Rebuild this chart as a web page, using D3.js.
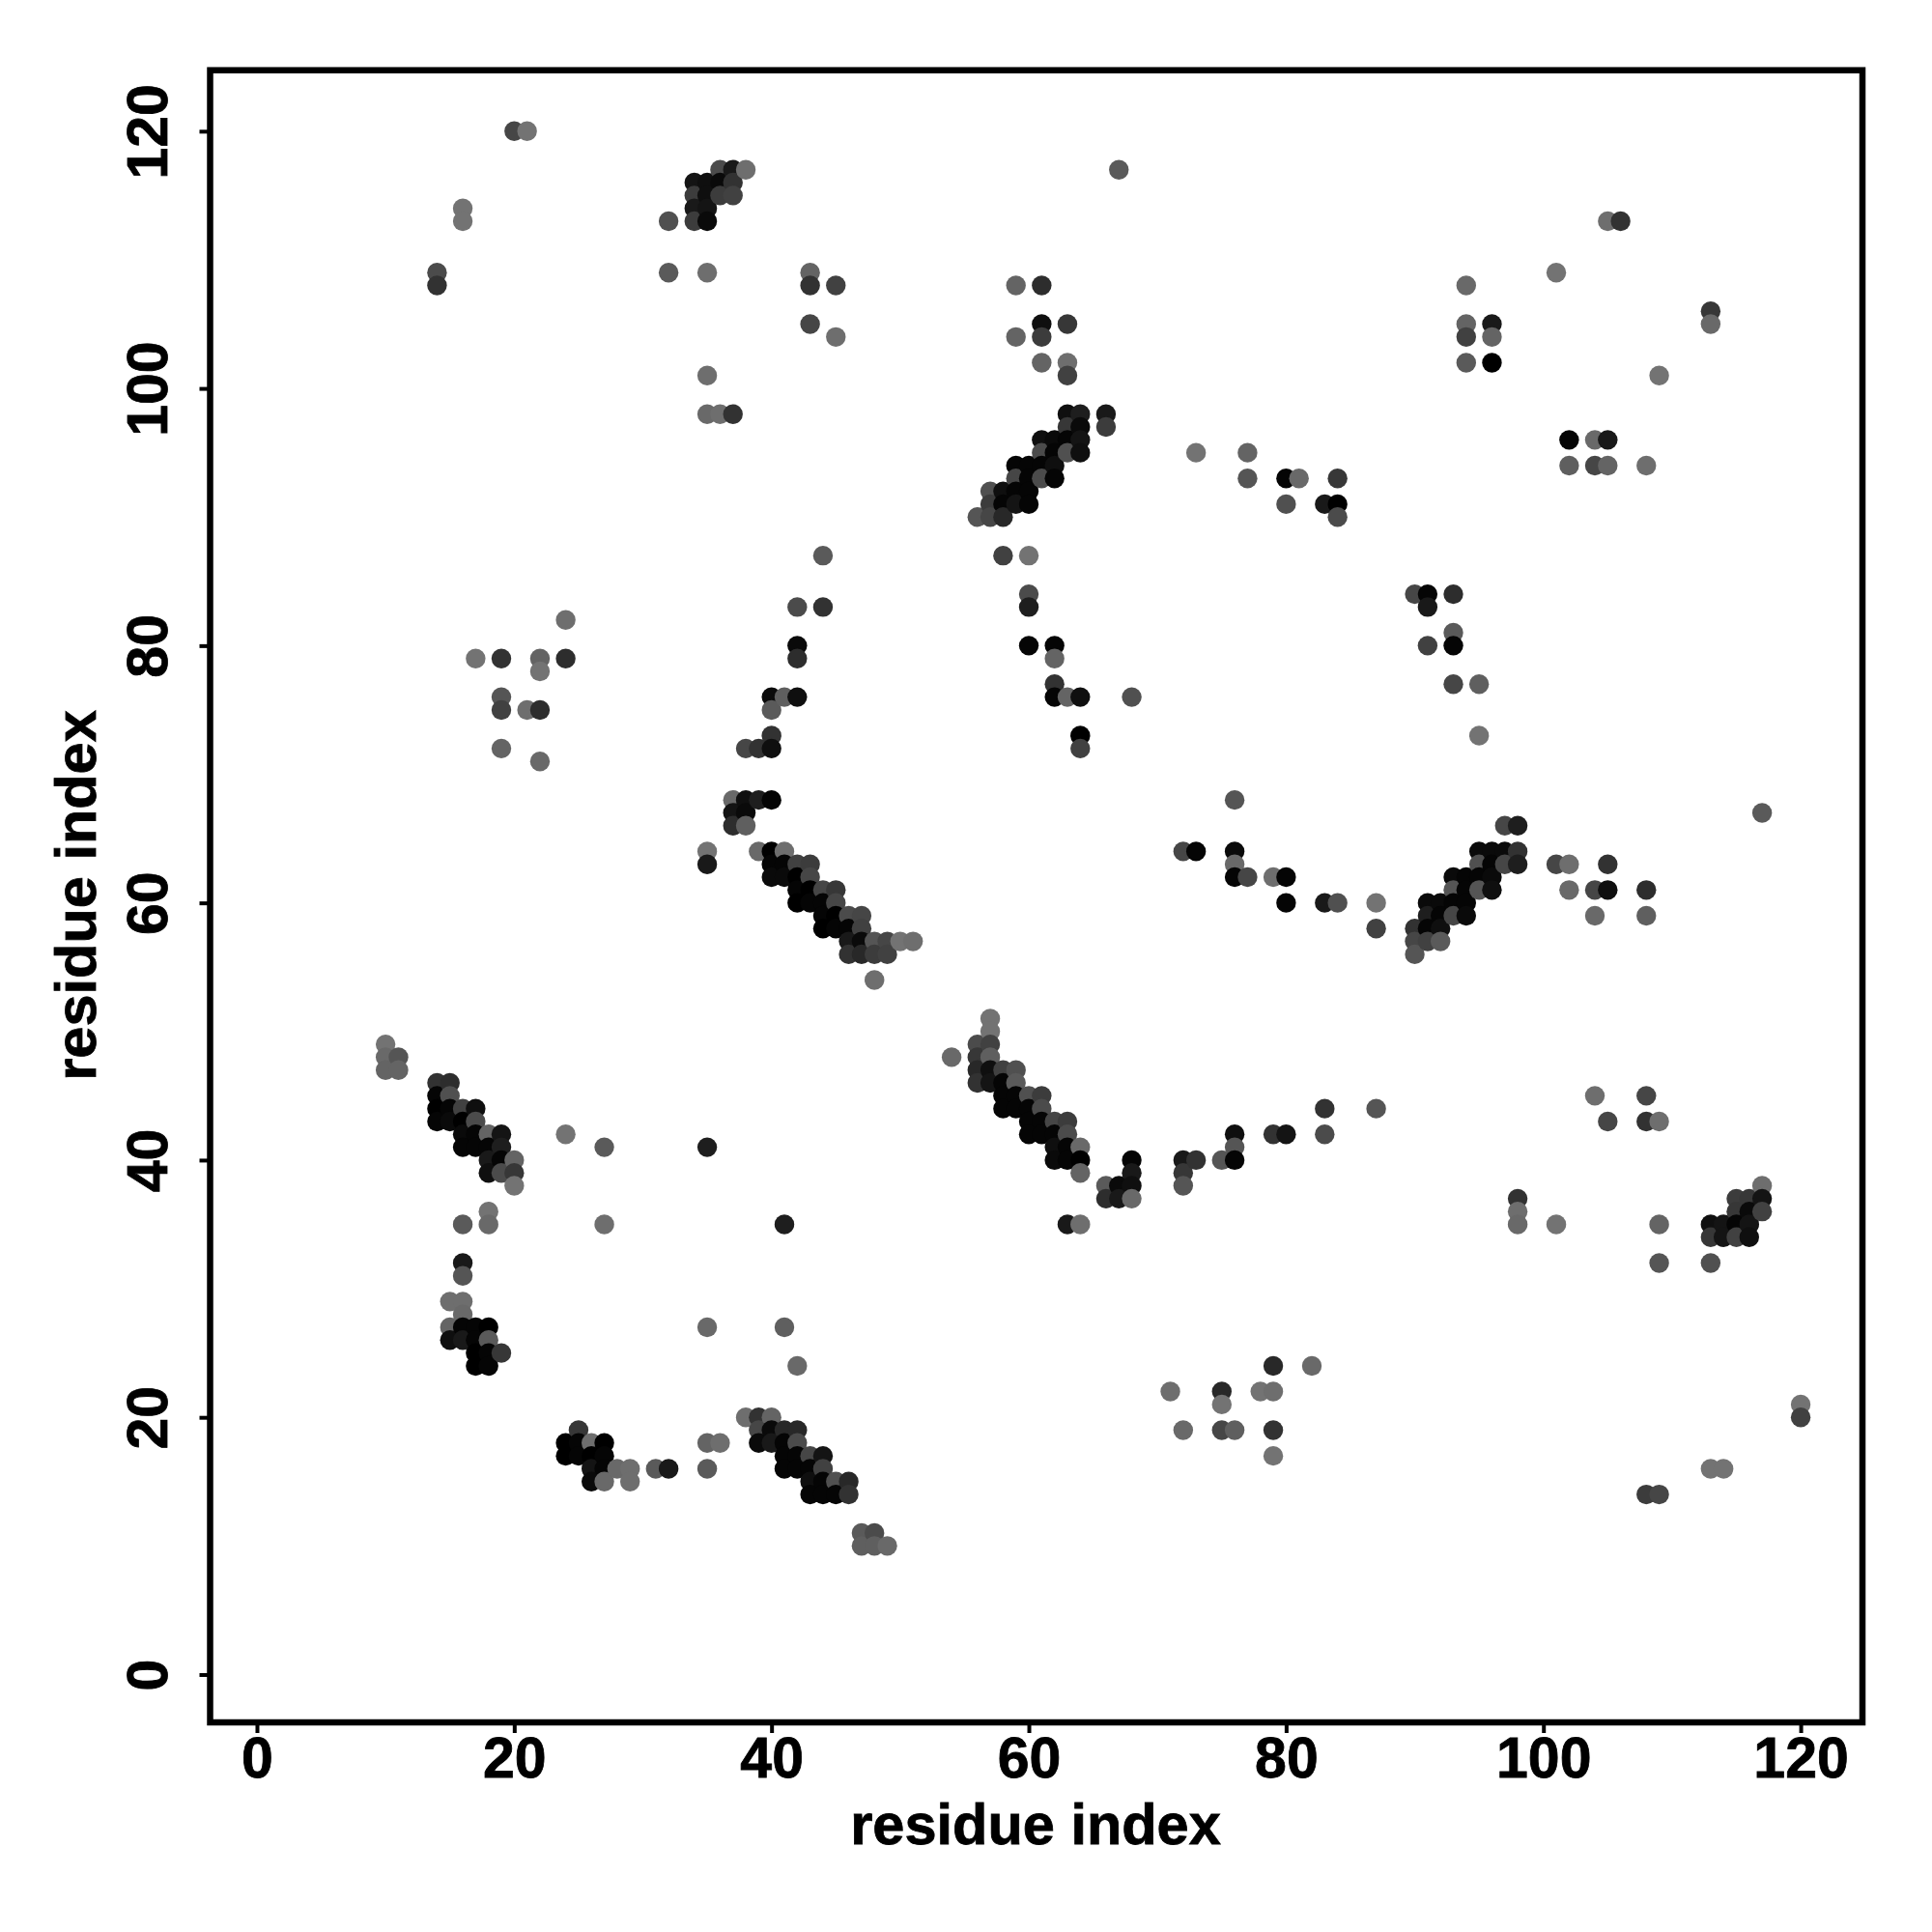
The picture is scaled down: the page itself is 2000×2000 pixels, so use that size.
<!DOCTYPE html>
<html><head><meta charset="utf-8">
<script src="https://cdnjs.cloudflare.com/ajax/libs/d3/7.8.5/d3.min.js"></script>
<style>html,body{margin:0;padding:0;background:#fff}svg{display:block}</style>
</head><body><svg id="c" width="2000" height="2000"></svg>
<script>
const residueI = [
20,21,16,16,14,14,
32,32,35,36,37,38,34,35,36,37,
34,35,36,37,34,35,34,35,
35,35,36,37,43,43,45,43,45,
44,42,44,42,42,40,41,42,40,40,38,39,40,
24,17,19,22,24,22,19,19,21,22,19,22,
37,38,39,40,37,38,37,38,35,35,
39,40,41,40,41,42,43,40,41,42,43,
42,43,44,45,42,43,44,45,
44,45,46,47,44,45,46,47,
46,47,48,49,50,51,46,47,48,49,48,
10,10,11,10,11,14,15,14,15,14,15,16,17,
14,15,16,17,16,17,18,19,16,17,18,19,
18,19,20,18,19,20,20,24,27,18,16,18,27,
16,16,15,16,16,15,16,17,18,15,16,17,18,
17,18,19,17,18,35,41,35,41,42,
25,24,25,26,27,24,25,26,27,
26,27,28,29,26,27,29,31,32,35,36,35,
38,39,40,39,40,41,42,39,40,41,42,
41,42,43,44,41,42,43,44,
43,44,45,46,43,44,45,46,47,48,47,48,49,
57,57,56,57,56,57,56,57,58,59,56,57,58,59,
58,59,60,61,58,59,60,61,
60,61,62,63,60,61,62,63,
62,63,64,62,63,64,64,
68,68,66,67,68,66,67,68,63,64,54,
72,73,72,72,75,76,76,76,79,80,83,83,87,
98,98,98,101,109,109,113,104,108,105,108,109,
71,75,75,78,79,79,82,72,75,76,79,79,120,120,113,114,108,109,
117,115,116,117,115,116,117,
113,114,115,116,113,114,115,116,
67,105,106,101,94,113,113,94,96,94,96,94,96,109,
59,61,61,63,59,61,61,63,63,
63,64,66,63,64,66,61,62,63,64,
61,62,63,64,59,60,61,62,
59,60,61,62,57,58,59,60,
57,58,59,60,56,57,58,
73,77,77,80,81,84,80,83,84,84,
102,104,105,102,104,105,108,
58,60,60,60,60,62,62,62,62,63,64,68,64,64,
90,91,91,93,93,91,93,93,95,95,117,
76,72,73,76,76,76,77,79,80,80,83,84,87,87,
97,98,95,96,97,98,95,96,97,98,
93,94,95,96,93,94,95,96,
91,92,93,94,91,92,93,94,
90,91,92,90,91,92,90,
101,102,105,102,104,105,108,104,108
];
const residueJ = [
120,120,114,113,109,108,
113,109,109,117,117,117,116,116,116,116,
115,115,115,115,114,114,113,113,
101,98,98,98,109,108,108,105,104,
87,83,83,80,79,76,76,76,75,73,72,72,72,
82,79,79,79,79,78,76,75,75,75,72,71,
68,68,68,68,67,67,66,66,64,63,
64,64,64,63,63,63,63,62,62,62,62,
61,61,61,61,60,60,60,60,
59,59,59,59,58,58,58,58,
57,57,57,57,57,57,56,56,56,56,54,
49,48,48,47,47,46,46,45,45,44,44,44,44,
43,43,43,43,42,42,42,42,41,41,41,41,
40,40,40,39,39,39,38,42,41,36,35,35,35,
32,31,29,29,28,27,27,27,27,26,26,26,26,
25,25,25,24,24,41,35,27,27,24,
19,18,18,18,18,17,17,17,17,
16,16,16,16,15,15,15,16,16,18,18,16,
20,20,20,19,19,19,19,18,18,18,18,
17,17,17,17,16,16,16,16,
15,15,15,15,14,14,14,14,11,11,10,10,10,
51,50,49,49,48,48,47,47,47,47,46,46,46,46,
45,45,45,45,44,44,44,44,
43,43,43,43,42,42,42,42,
41,41,41,40,40,40,39,
40,39,38,38,38,37,37,37,35,35,48,
40,40,39,38,40,42,41,40,42,42,44,42,44,
37,36,35,35,35,32,32,45,45,43,43,43,
22,22,21,22,22,24,24,19,19,19,19,17,21,20,16,16,14,14,
38,37,37,37,36,36,36,
35,35,35,35,34,34,34,34,
117,113,113,109,108,106,105,105,105,104,104,102,102,101,
108,108,105,105,104,104,102,102,101,
98,98,98,97,97,97,96,96,96,96,
95,95,95,95,94,94,94,94,
93,93,93,93,92,92,92,92,
91,91,91,91,90,90,90,
95,95,93,93,93,93,91,91,91,90,
96,96,96,94,94,94,94,
87,87,84,83,80,80,79,77,76,76,76,76,73,72,
84,84,83,84,81,80,80,77,77,73,67,
68,64,64,64,63,62,62,62,62,60,60,60,60,58,
66,66,64,64,64,64,63,63,63,63,
62,62,62,62,61,61,61,61,
60,60,60,60,59,59,59,59,
58,58,58,57,57,57,56,
63,63,63,61,61,61,61,59,59
];
const shade = [
70,115,115,115,75,50,
80,90,110,75,25,110,20,15,10,50,
60,15,60,65,25,20,60,10,
110,105,110,50,100,50,65,70,110,
90,75,50,10,45,10,95,15,90,50,70,50,15,
110,115,50,100,45,115,85,65,110,45,100,105,
105,15,30,5,20,10,45,95,115,25,
105,0,110,5,5,65,60,10,10,0,70,
5,0,70,55,0,5,5,70,
5,0,75,70,0,5,5,65,
25,10,85,70,115,110,50,40,60,65,110,
115,105,85,100,100,50,45,5,80,0,5,65,15,
5,10,0,75,10,5,100,20,5,5,5,30,
25,5,100,15,75,55,115,115,90,115,90,105,110,
25,85,110,110,105,100,5,5,0,15,25,5,90,
0,5,55,0,5,30,30,105,95,105,
55,0,5,110,0,0,5,0,5,
20,5,105,110,10,105,110,90,25,100,110,90,
110,50,100,70,10,40,40,10,25,5,75,
5,5,70,20,5,5,5,65,
15,5,80,40,5,5,5,50,90,75,95,95,105,
115,115,75,65,55,95,40,15,65,80,50,20,5,90,
5,5,80,60,5,5,5,75,
5,5,70,60,5,5,5,75,
15,5,105,10,5,0,100,
5,25,90,10,15,45,25,105,25,110,105,
25,50,55,85,85,15,85,5,50,20,50,75,85,
50,110,105,115,100,85,80,110,70,70,50,110,
110,40,115,115,110,40,105,105,70,95,50,115,115,65,115,115,60,70,
110,60,55,20,55,10,65,
15,20,5,20,55,20,65,15,
90,110,50,115,105,55,105,100,25,65,100,90,0,115,
100,45,15,55,100,60,100,110,65,
15,30,25,55,10,60,15,10,5,20,
75,5,80,15,5,5,5,15,
70,5,75,5,80,15,5,5,
60,5,20,5,85,70,40,
115,100,85,5,105,55,80,25,0,75,
5,105,25,95,70,100,110,
65,115,75,30,5,5,100,50,5,100,15,80,0,65,
70,5,25,45,90,65,5,70,95,115,90,
85,70,5,10,105,5,70,110,5,5,25,80,115,65,
70,30,10,10,10,50,80,5,70,30,
10,5,5,10,85,5,85,15,
10,10,5,5,30,5,70,10,
50,5,15,70,65,90,85,
70,110,50,105,70,15,45,105,95
];

const frame = {left:217.5, right:1928, top:72.7, bottom:1783};
const ticks = [0,20,40,60,80,100,120];
const xLabel = "residue index", yLabel = "residue index";
const font = '"Liberation Sans", Arial, sans-serif';

const x = d3.scaleLinear().domain([-3.64,124.8]).range([frame.left,frame.right]);
const y = d3.scaleLinear().domain([-3.72,124.74]).range([frame.bottom,frame.top]);
const svg = d3.select("#c");

const pts = d3.range(residueI.length).map(k=>({i:residueI[k],j:residueJ[k],g:shade[k]}));
pts.sort((a,b)=>d3.ascending(a.i,b.i)||d3.descending(a.j,b.j));
svg.append("g").selectAll("circle").data(pts).join("circle")
  .attr("cx",d=>x(d.i)).attr("cy",d=>y(d.j)).attr("r",10.2)
  .attr("fill",d=>d3.rgb(d.g,d.g,d.g));

svg.append("rect").attr("x",frame.left).attr("y",frame.top)
  .attr("width",frame.right-frame.left).attr("height",frame.bottom-frame.top)
  .attr("fill","none").attr("stroke","#000").attr("stroke-width",6.5);

const gx = svg.append("g").attr("transform",`translate(0,${frame.bottom})`)
  .call(d3.axisBottom(x).tickValues(ticks).tickSize(11).tickPadding(0));
const gy = svg.append("g").attr("transform",`translate(${frame.left},0)`)
  .call(d3.axisLeft(y).tickValues(ticks).tickSize(11).tickPadding(0));
[gx,gy].forEach(g=>{
  g.select(".domain").remove();
  g.selectAll("line").attr("stroke","#000").attr("stroke-width",4);
  g.selectAll("text").attr("fill","#000")
   .attr("font-family",font).attr("font-weight","bold").attr("font-size",59)
   .attr("stroke","#000").attr("stroke-width",0.8);
});
gx.selectAll("text").attr("dy",null).attr("y",57);
gy.selectAll("text").attr("dy",null).attr("x",null).attr("text-anchor","middle")
  .attr("transform","translate(-45,0) rotate(-90)");

svg.append("text").attr("x",1072).attr("y",1909).attr("text-anchor","middle")
  .attr("font-family",font).attr("font-weight","bold").attr("font-size",59.5)
  .attr("stroke","#000").attr("stroke-width",0.8).text(xLabel);
svg.append("text").attr("transform","translate(99,927) rotate(-90)").attr("text-anchor","middle")
  .attr("font-family",font).attr("font-weight","bold").attr("font-size",59.5)
  .attr("stroke","#000").attr("stroke-width",0.8).text(yLabel);
if(residueI.length!==residueJ.length||residueI.length!==shade.length) throw new Error("len "+residueI.length+" "+residueJ.length+" "+shade.length);
</script></body></html>
